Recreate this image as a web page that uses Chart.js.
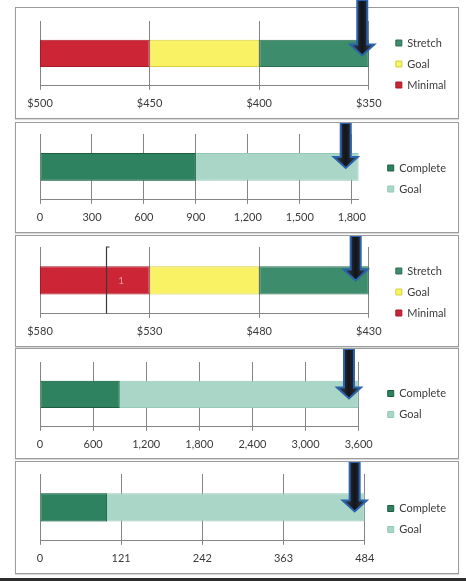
<!DOCTYPE html>
<html><head><meta charset="utf-8">
<script src="https://cdn.jsdelivr.net/npm/chart.js@4.4.1/dist/chart.umd.min.js"></script>
<style>
html,body{margin:0;padding:0;background:#fff;}
body{width:466px;height:581px;position:relative;overflow:hidden;font-family:Lato,"Open Sans",sans-serif;}
.panel{position:absolute;left:15px;width:444px;border:1px solid #9c9c9c;box-sizing:border-box;background:#fff;box-shadow:0 1px 1px rgba(0,0,0,0.15);}
canvas.c{position:absolute;left:16px;}
#frame{position:absolute;left:0;top:578px;width:466px;height:3px;background:#2e2e2e;}
</style></head>
<body>
<div class="panel" style="top:7px;height:112px"></div>
<div class="panel" style="top:122px;height:111px"></div>
<div class="panel" style="top:235px;height:112px"></div>
<div class="panel" style="top:348px;height:111px"></div>
<div class="panel" style="top:461px;height:113px"></div>
<canvas class="c" id="c1" style="top:0px" width="442" height="118"></canvas>
<canvas class="c" id="c2" style="top:123px" width="442" height="109"></canvas>
<canvas class="c" id="c3" style="top:236px" width="442" height="110"></canvas>
<canvas class="c" id="c4" style="top:349px" width="442" height="109"></canvas>
<canvas class="c" id="c5" style="top:462px" width="442" height="111"></canvas>
<div id="frame"></div>
<script>
// ---------- data ----------
const rangeSeries = ['Stretch', 'Goal', 'Minimal'];
const progressSeries = ['Complete', 'Goal'];

// Panel 1 (reversed $ scale)
const p1Ticks = [500, 450, 400, 350];
const p1Stretch = [350, 400];
const p1Goal = [400, 450];
const p1Minimal = [450, 500];
const p1Arrow = 353;

// Panel 2
const p2Ticks = [0, 300, 600, 900, 1200, 1500, 1800];
const p2Complete = 900;
const p2Goal = 1840;
const p2Arrow = 1765;

// Panel 3 (reversed $ scale)
const p3Ticks = [580, 530, 480, 430];
const p3Stretch = [430, 480];
const p3Goal = [480, 530];
const p3Minimal = [530, 580];
const p3Arrow = 436;
const p3Marker = 550;
const p3LabelValue = 543;
const p3LabelText = '1';

// Panel 4
const p4Ticks = [0, 600, 1200, 1800, 2400, 3000, 3600];
const p4Complete = 900;
const p4Goal = 3600;
const p4Arrow = 3490;

// Panel 5
const p5Ticks = [0, 121, 242, 363, 484];
const p5Complete = 100;
const p5Goal = 484;
const p5Arrow = 469;

// ---------- styling ----------
const FONT = {family: 'Lato', size: 11};
const TEXT = '#3a3a3a';
const GRID = '#858585';
const COLORS = {
  Stretch: ['#3d8c6c', '#2c6e52'],
  Goal: ['#f8f264', '#d8d040'],
  Minimal: ['#cc2536', '#a51a28'],
  Complete: ['#2f8260', '#1e5e40'],
  GoalLight: ['#a9d6c6', '#96c8b6']
};

const arrowPlugin = {
  id: 'arrowMark',
  afterDatasetsDraw(chart, args, o) {
    const ctx = chart.ctx;
    const x = chart.scales.x.getPixelForValue(o.value);
    const tip = chart.scales.y.getPixelForValue(0) + (o.tipOffset || 0);
    const top = o.top || 0;
    const sw = 5, hw = 12, hh = 11;
    ctx.save();
    ctx.beginPath();
    ctx.moveTo(x - sw, top);
    ctx.lineTo(x + sw, top);
    ctx.lineTo(x + sw, tip - hh);
    ctx.lineTo(x + hw, tip - hh);
    ctx.lineTo(x, tip);
    ctx.lineTo(x - hw, tip - hh);
    ctx.lineTo(x - sw, tip - hh);
    ctx.closePath();
    const g = ctx.createLinearGradient(x - hw, 0, x + hw, 0);
    g.addColorStop(0, '#3a4656');
    g.addColorStop(0.5, '#121418');
    g.addColorStop(1, '#3a4656');
    ctx.fillStyle = g;
    ctx.fill();
    ctx.lineWidth = 2;
    ctx.strokeStyle = '#2b62ad';
    ctx.stroke();
    ctx.restore();
  }
};

const extraPlugin = {
  id: 'extraMarks',
  afterDatasetsDraw(chart, args, o) {
    if (!o || o.markerValue === undefined) return;
    const ctx = chart.ctx, ca = chart.chartArea;
    const xs = chart.scales.x, ys = chart.scales.y;
    ctx.save();
    const mx = Math.round(xs.getPixelForValue(o.markerValue)) + 0.5;
    ctx.strokeStyle = '#3a3a3a';
    ctx.lineWidth = 1.2;
    ctx.beginPath();
    ctx.moveTo(mx + 3, ca.top);
    ctx.lineTo(mx, ca.top);
    ctx.lineTo(mx, ca.bottom);
    ctx.stroke();
    ctx.fillStyle = '#e49aa2';
    ctx.font = '10px Lato';
    ctx.textAlign = 'center';
    ctx.textBaseline = 'middle';
    ctx.fillText(o.labelText, xs.getPixelForValue(o.labelValue), ys.getPixelForValue(0));
    ctx.restore();
  }
};

// nudges the legend block vertically to match the reference placement
const legendShiftPlugin = {
  id: 'legendShift',
  afterLayout(chart, args, o) {
    const lg = chart.legend;
    if (lg && o && o.dy) { lg.top += o.dy; lg.bottom += o.dy; }
  }
};

function barDs(label, data, key) {
  return {
    label, data: [data],
    backgroundColor: COLORS[key][0],
    borderColor: COLORS[key][1],
    borderWidth: 1, borderSkipped: false,
    barPercentage: 0.42, categoryPercentage: 1, grouped: false
  };
}

function makeChart(id, cfg) {
  const scales = {
    x: {
      type: 'linear', min: cfg.min, max: cfg.max, reverse: !!cfg.reverse,
      afterBuildTicks: s => { s.ticks = cfg.ticks.map(v => ({value: v})); },
      ticks: {callback: cfg.fmt, font: FONT, color: TEXT, padding: 7, maxRotation: 0, autoSkip: false},
      grid: {color: GRID, lineWidth: 1, tickLength: 4, drawTicks: true},
      border: {color: GRID, width: 1}
    },
    y: {type: 'category', labels: [''], display: false},
    spacer: {
      type: 'linear', position: 'right', display: true,
      grid: {display: false}, border: {display: false}, ticks: {display: false},
      afterFit: s => { s.width = cfg.spacer; }
    }
  };
  return new Chart(document.getElementById(id), {
    type: 'bar',
    data: {labels: [''], datasets: cfg.datasets},
    options: {
      indexAxis: 'y', responsive: false, animation: false,
      layout: {padding: {left: 24, right: 2, top: cfg.padTop, bottom: cfg.padBottom}},
      scales,
      plugins: {
        legend: {
          position: 'right', align: 'center',
          labels: {boxWidth: 6, boxHeight: 6, padding: 10, font: FONT, color: TEXT}
        },
        tooltip: {enabled: false},
        arrowMark: {value: cfg.arrow, top: cfg.arrowTop || 0, tipOffset: cfg.tipOffset || 0},
        extraMarks: cfg.extra || {},
        legendShift: {dy: cfg.legendDy || 0}
      }
    },
    plugins: [arrowPlugin, extraPlugin, legendShiftPlugin]
  });
}

const money = v => '$' + v;
const num = v => Number(v).toLocaleString('en-US');

makeChart('c1', {
  min: Math.min(...p1Ticks), max: Math.max(...p1Ticks), reverse: true, ticks: p1Ticks, fmt: money,
  datasets: [barDs(rangeSeries[0], p1Stretch, 'Stretch'), barDs(rangeSeries[1], p1Goal, 'Goal'), barDs(rangeSeries[2], p1Minimal, 'Minimal')],
  arrow: p1Arrow, spacer: 17, padTop: 21, padBottom: 1, tipOffset: 2, legendDy: -5
});
makeChart('c2', {
  min: 0, max: p2Goal, ticks: p2Ticks, fmt: num,
  datasets: [barDs(progressSeries[0], [0, p2Complete], 'Complete'), barDs(progressSeries[1], [0, p2Goal], 'GoalLight')],
  arrow: p2Arrow, spacer: 19, padTop: 11, padBottom: 1, tipOffset: 1, legendDy: -4
});
makeChart('c3', {
  min: Math.min(...p3Ticks), max: Math.max(...p3Ticks), reverse: true, ticks: p3Ticks, fmt: money,
  datasets: [barDs(rangeSeries[0], p3Stretch, 'Stretch'), barDs(rangeSeries[1], p3Goal, 'Goal'), barDs(rangeSeries[2], p3Minimal, 'Minimal')],
  arrow: p3Arrow, spacer: 17, padTop: 11, padBottom: 1, tipOffset: 0, legendDy: -4,
  extra: {markerValue: p3Marker, labelValue: p3LabelValue, labelText: p3LabelText}
});
makeChart('c4', {
  min: 0, max: p4Goal, ticks: p4Ticks, fmt: num,
  datasets: [barDs(progressSeries[0], [0, p4Complete], 'Complete'), barDs(progressSeries[1], [0, p4Goal], 'GoalLight')],
  arrow: p4Arrow, spacer: 19, padTop: 13, padBottom: 0, tipOffset: 4, legendDy: -6
});
makeChart('c5', {
  min: 0, max: p5Goal, ticks: p5Ticks, fmt: num,
  datasets: [barDs(progressSeries[0], [0, p5Complete], 'Complete'), barDs(progressSeries[1], [0, p5Goal], 'GoalLight')],
  arrow: p5Arrow, spacer: 13, padTop: 12, padBottom: 1, tipOffset: 4, legendDy: -4
});
</script>
</body></html>
